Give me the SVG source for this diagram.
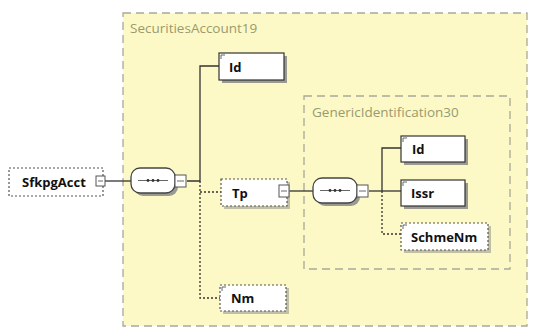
<svg xmlns="http://www.w3.org/2000/svg" width="533" height="327" viewBox="0 0 533 327">
<style>
.grp{fill:#fcf9c6;stroke:#a8a89a;stroke-width:1.3;stroke-dasharray:8,5}
.grpl{font-family:"Open Sans","DejaVu Sans",sans-serif;font-size:13.5px;fill:#9a9a70}
.box{fill:#fff;stroke:#333;stroke-width:1.2}
.obox{fill:#fff;stroke:#555;stroke-width:1.2;stroke-dasharray:2,2}
.sh{fill:#9a9a90}
.lbl{font-family:"Open Sans","DejaVu Sans",sans-serif;font-size:13px;font-weight:bold;fill:#111}
.ln{stroke:#333;stroke-width:1.3;fill:none}
.dln{stroke:#333;stroke-width:1.3;fill:none;stroke-dasharray:2,2}
.seq{fill:#fff;stroke:#444;stroke-width:1.3}
.exp{fill:#fff;stroke:#555;stroke-width:1}
.ic{stroke:#666;stroke-width:1;fill:none}
</style>
<rect x="0" y="0" width="533" height="327" fill="#fff"/>
<g id="SecuritiesAccount19">
<rect class="grp" x="123" y="13" width="404" height="313"/>
<text class="grpl" x="130" y="33">SecuritiesAccount19</text>
</g>
<g id="GenericIdentification30">
<rect class="grp" x="304" y="96" width="206" height="173"/>
<text class="grpl" x="312" y="117">GenericIdentification30</text>
</g>
<g id="connectors">
<path class="ln" d="M103 181H131"/>
<path class="ln" d="M187 181H200V66H219"/>
<path class="dln" d="M200 181V298H220"/>
<path class="dln" d="M200 192H221"/>
<path class="ln" d="M289 191H313"/>
<path class="ln" d="M369 191H401"/>
<path class="ln" d="M382 191V148H401"/>
<path class="dln" d="M382 191V234H401"/>
</g>
<g id="SfkpgAcct">
<rect class="obox" x="9" y="168" width="94" height="28"/>
<text class="lbl" x="22" y="187">SfkpgAcct</text>
<rect class="exp" x="96" y="176" width="9" height="10"/>
<path class="ic" d="M98 181H103"/>
</g>
<g id="seq1">
<rect class="sh" x="134" y="171" width="44" height="25" rx="9"/>
<rect class="seq" x="131" y="168" width="44" height="25" rx="9"/>
<path class="ic" d="M138 180.5H168" stroke="#333"/>
<circle cx="148" cy="180.5" r="1.4" fill="#333"/>
<circle cx="153" cy="180.5" r="1.4" fill="#333"/>
<circle cx="158" cy="180.5" r="1.4" fill="#333"/>
<rect class="exp" x="175" y="175" width="11" height="12"/>
<path class="ic" d="M177 181H184"/>
</g>
<g id="Id1">
<rect class="sh" x="222" y="56" width="65" height="27"/>
<rect class="box" x="219" y="53" width="65" height="27"/>
<path class="ic" d="M221 55H225M221 55V59"/>
<text class="lbl" x="229" y="72">Id</text>
</g>
<g id="Tp">
<rect class="sh" x="224" y="182" width="66" height="27" opacity="0.6"/>
<rect class="obox" x="221" y="179" width="66" height="27"/>
<text class="lbl" x="232" y="198">Tp</text>
<rect class="exp" x="279" y="185" width="10" height="12"/>
<path class="ic" d="M281 191H287"/>
</g>
<g id="Nm">
<rect class="sh" x="223" y="288" width="66" height="26" opacity="0.6"/>
<rect class="obox" x="220" y="285" width="66" height="26"/>
<path class="ic" d="M222 287H226M222 287V291"/>
<text class="lbl" x="231" y="303">Nm</text>
</g>
<g id="seq2">
<rect class="sh" x="316" y="181" width="44" height="25" rx="9"/>
<rect class="seq" x="313" y="178" width="44" height="25" rx="9"/>
<path class="ic" d="M320 190.5H350" stroke="#333"/>
<circle cx="330" cy="190.5" r="1.4" fill="#333"/>
<circle cx="335" cy="190.5" r="1.4" fill="#333"/>
<circle cx="340" cy="190.5" r="1.4" fill="#333"/>
<rect class="exp" x="357" y="185" width="11" height="12"/>
<path class="ic" d="M359 191H366"/>
</g>
<g id="Id2">
<rect class="sh" x="404" y="139" width="64" height="26"/>
<rect class="box" x="401" y="136" width="64" height="26"/>
<path class="ic" d="M403 138H407M403 138V142"/>
<text class="lbl" x="412" y="154">Id</text>
</g>
<g id="Issr">
<rect class="sh" x="404" y="183" width="64" height="26"/>
<rect class="box" x="401" y="180" width="64" height="26"/>
<path class="ic" d="M403 182H407M403 182V186"/>
<text class="lbl" x="411" y="198">Issr</text>
</g>
<g id="SchmeNm">
<rect class="sh" x="404" y="226" width="87" height="27" opacity="0.6"/>
<rect class="obox" x="401" y="223" width="87" height="27"/>
<path class="ic" d="M403 225H407M403 225V229"/>
<text class="lbl" x="411" y="242">SchmeNm</text>
</g>
</svg>
